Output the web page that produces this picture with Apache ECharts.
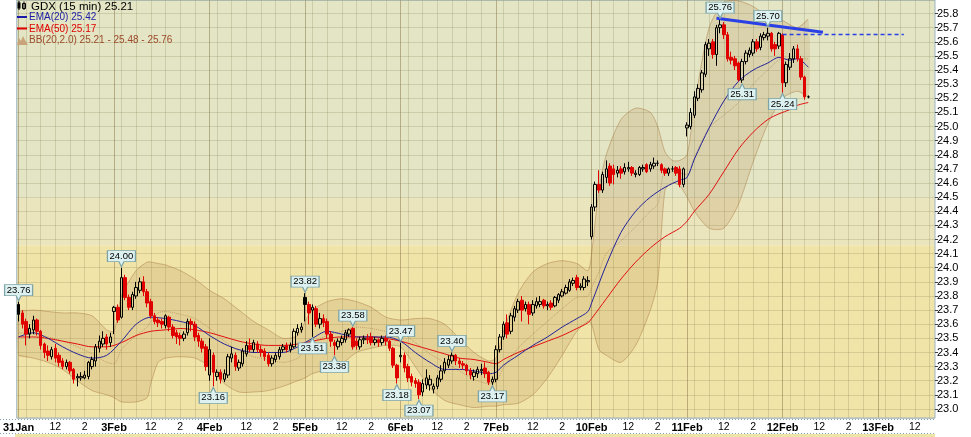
<!DOCTYPE html>
<html><head><meta charset="utf-8">
<script src="https://cdn.jsdelivr.net/npm/echarts@6/dist/echarts.min.js"></script>
<style>html,body{margin:0;padding:0;background:#fff}#c{width:971px;height:437px}</style>
</head><body><div id="c"></div>
<script>
// ---------- categories ----------
const days = ['31Jan','3Feb','4Feb','5Feb','6Feb','7Feb','10Feb','11Feb','12Feb','13Feb'];
const barTimes = ['09:30','09:45','10:00','10:15','10:30','10:45','11:00','11:15','11:30','11:45','12:00','12:15','12:30','12:45','13:00','13:15','13:30','13:45','14:00','14:15','14:30','14:45','15:00','15:15','15:30','15:45'];
const axisBarCount = 250;
const gridTimes = ['10:00','11:00','12:00','13:00','14:00','15:00'];

// ---------- candles [open, close, low, high] ----------
const day31Jan = [[23.74,23.67,23.62,23.76],[23.68,23.60,23.57,23.70],[23.62,23.53,23.45,23.64],[23.53,23.57,23.50,23.60],[23.56,23.63,23.53,23.66],[23.63,23.55,23.52,23.64],[23.55,23.45,23.42,23.56],[23.46,23.40,23.36,23.47],[23.41,23.38,23.34,23.45],[23.37,23.42,23.35,23.44],[23.43,23.36,23.33,23.46],[23.38,23.33,23.30,23.40],[23.34,23.30,23.28,23.36],[23.30,23.33,23.28,23.35],[23.33,23.27,23.25,23.34],[23.28,23.21,23.18,23.29],[23.22,23.23,23.16,23.25],[23.22,23.23,23.20,23.26],[23.22,23.24,23.21,23.27],[23.23,23.33,23.21,23.34],[23.30,23.35,23.28,23.37],[23.34,23.44,23.30,23.46],[23.43,23.48,23.40,23.52],[23.46,23.50,23.44,23.55],[23.51,23.46,23.42,23.53],[23.47,23.51,23.44,23.54]];
const day3Feb = [[23.69,23.72,23.53,23.73],[23.72,23.63,23.61,23.74],[23.65,23.93,23.64,24.00],[23.93,23.79,23.77,23.95],[23.79,23.72,23.70,23.81],[23.72,23.81,23.70,23.83],[23.80,23.86,23.78,23.90],[23.84,23.90,23.82,23.93],[23.90,23.83,23.80,23.94],[23.83,23.75,23.72,23.85],[23.76,23.66,23.64,23.78],[23.66,23.62,23.60,23.68],[23.63,23.61,23.58,23.65],[23.62,23.60,23.57,23.64],[23.59,23.66,23.57,23.67],[23.65,23.58,23.55,23.66],[23.58,23.52,23.50,23.60],[23.54,23.51,23.46,23.56],[23.52,23.50,23.45,23.54],[23.50,23.53,23.48,23.55],[23.54,23.62,23.52,23.64],[23.62,23.60,23.55,23.64],[23.60,23.51,23.48,23.62],[23.52,23.48,23.44,23.54],[23.48,23.43,23.40,23.50],[23.44,23.30,23.27,23.46]];
const day4Feb = [[23.24,23.42,23.20,23.50],[23.38,23.26,23.16,23.40],[23.23,23.26,23.20,23.28],[23.26,23.21,23.18,23.28],[23.21,23.25,23.19,23.28],[23.24,23.37,23.22,23.39],[23.36,23.39,23.33,23.44],[23.38,23.30,23.27,23.40],[23.29,23.33,23.27,23.35],[23.32,23.41,23.30,23.43],[23.39,23.45,23.37,23.48],[23.45,23.42,23.40,23.50],[23.42,23.47,23.40,23.49],[23.46,23.42,23.40,23.48],[23.42,23.40,23.37,23.45],[23.41,23.37,23.34,23.43],[23.38,23.32,23.30,23.40],[23.32,23.36,23.30,23.38],[23.35,23.38,23.33,23.40],[23.37,23.42,23.35,23.44],[23.42,23.44,23.40,23.46],[23.45,23.42,23.40,23.47],[23.42,23.45,23.40,23.47],[23.44,23.55,23.43,23.57],[23.54,23.57,23.52,23.60],[23.56,23.58,23.54,23.61]];
const day5Feb = [[23.79,23.74,23.62,23.82],[23.74,23.68,23.60,23.76],[23.70,23.72,23.51,23.74],[23.71,23.60,23.58,23.73],[23.60,23.64,23.57,23.68],[23.64,23.61,23.58,23.67],[23.62,23.53,23.50,23.64],[23.53,23.48,23.44,23.55],[23.47,23.45,23.38,23.49],[23.44,23.48,23.42,23.50],[23.47,23.50,23.45,23.52],[23.49,23.54,23.47,23.56],[23.53,23.56,23.51,23.57],[23.57,23.44,23.42,23.58],[23.48,23.45,23.42,23.50],[23.44,23.49,23.42,23.51],[23.49,23.50,23.46,23.52],[23.50,23.49,23.46,23.53],[23.51,23.47,23.45,23.54],[23.47,23.49,23.45,23.51],[23.49,23.47,23.44,23.50],[23.47,23.50,23.45,23.52],[23.50,23.48,23.45,23.52],[23.48,23.43,23.41,23.49],[23.43,23.31,23.29,23.44],[23.31,23.22,23.18,23.32]];
const day6Feb = [[23.37,23.38,23.33,23.47],[23.38,23.29,23.26,23.40],[23.30,23.22,23.19,23.32],[23.23,23.19,23.16,23.25],[23.20,23.18,23.15,23.22],[23.19,23.10,23.07,23.21],[23.12,23.18,23.09,23.21],[23.17,23.22,23.14,23.28],[23.17,23.21,23.13,23.24],[23.14,23.16,23.11,23.18],[23.16,23.22,23.14,23.24],[23.21,23.27,23.19,23.31],[23.27,23.33,23.25,23.36],[23.31,23.35,23.29,23.38],[23.34,23.38,23.32,23.40],[23.38,23.34,23.31,23.39],[23.34,23.32,23.29,23.36],[23.32,23.31,23.28,23.34],[23.31,23.27,23.24,23.32],[23.27,23.24,23.21,23.29],[23.23,23.26,23.20,23.28],[23.25,23.28,23.22,23.30],[23.27,23.28,23.24,23.32],[23.29,23.25,23.22,23.33],[23.26,23.19,23.17,23.27],[23.19,23.21,23.17,23.23]];
const day7Feb = [[23.21,23.42,23.19,23.45],[23.42,23.51,23.40,23.53],[23.51,23.60,23.49,23.62],[23.61,23.53,23.50,23.67],[23.55,23.66,23.53,23.68],[23.65,23.71,23.62,23.73],[23.70,23.76,23.68,23.78],[23.77,23.70,23.62,23.80],[23.71,23.74,23.69,23.76],[23.74,23.67,23.60,23.76],[23.68,23.74,23.66,23.77],[23.73,23.76,23.71,23.79],[23.74,23.76,23.72,23.80],[23.77,23.73,23.71,23.78],[23.73,23.74,23.70,23.76],[23.75,23.72,23.70,23.77],[23.73,23.79,23.72,23.80],[23.77,23.81,23.75,23.82],[23.80,23.83,23.79,23.85],[23.82,23.86,23.81,23.88],[23.84,23.90,23.83,23.92],[23.89,23.91,23.87,23.93],[23.93,23.86,23.84,23.95],[23.86,23.87,23.84,23.89],[23.86,23.92,23.84,23.94],[23.90,23.91,23.87,23.94]];
const day10Feb = [[24.22,24.43,24.20,24.45],[24.43,24.59,24.40,24.61],[24.59,24.55,24.53,24.69],[24.55,24.66,24.53,24.68],[24.64,24.70,24.60,24.76],[24.72,24.60,24.58,24.74],[24.70,24.66,24.59,24.73],[24.67,24.69,24.64,24.72],[24.70,24.67,24.63,24.72],[24.68,24.71,24.66,24.74],[24.70,24.71,24.68,24.75],[24.71,24.67,24.65,24.72],[24.66,24.67,24.64,24.69],[24.66,24.71,24.65,24.72],[24.70,24.71,24.68,24.73],[24.73,24.68,24.67,24.74],[24.70,24.73,24.68,24.75],[24.72,24.74,24.70,24.78],[24.74,24.74,24.72,24.76],[24.73,24.69,24.67,24.74],[24.70,24.67,24.65,24.71],[24.67,24.70,24.65,24.71],[24.70,24.70,24.68,24.72],[24.71,24.67,24.65,24.72],[24.70,24.59,24.57,24.72],[24.59,24.70,24.57,24.71]];
const day11Feb = [[24.99,25.01,24.93,25.03],[25.00,25.10,24.98,25.13],[25.08,25.21,25.06,25.25],[25.20,25.27,25.18,25.30],[25.26,25.38,25.24,25.40],[25.37,25.58,25.35,25.60],[25.55,25.59,25.50,25.62],[25.60,25.51,25.48,25.62],[25.51,25.70,25.43,25.72],[25.70,25.72,25.66,25.76],[25.72,25.65,25.62,25.74],[25.65,25.48,25.46,25.67],[25.49,25.47,25.44,25.53],[25.48,25.43,25.40,25.50],[25.45,25.33,25.32,25.46],[25.33,25.46,25.31,25.48],[25.46,25.52,25.44,25.54],[25.51,25.54,25.49,25.56],[25.52,25.60,25.50,25.62],[25.60,25.55,25.53,25.62],[25.56,25.64,25.54,25.66],[25.63,25.65,25.61,25.67],[25.64,25.66,25.61,25.70],[25.66,25.55,25.53,25.67],[25.58,25.55,25.50,25.60],[25.57,25.66,25.55,25.67]];
const day12Feb = [[25.65,25.31,25.24,25.66],[25.31,25.44,25.28,25.46],[25.42,25.48,25.40,25.52],[25.48,25.55,25.45,25.57],[25.55,25.48,25.46,25.58],[25.48,25.35,25.33,25.50],[25.35,25.21,25.19,25.36],[25.21,25.21,25.20,25.22]];
const blackFilledBars = [0, 78];

// ---------- indicators ----------
const emaIndex = [0,4,8,12,16,20,24,28,32,36,40,44,48,52,56,60,64,68,72,76,80,84,88,92,96,100,104,108,112,116,120,124,128,130,132,136,140,144,148,152,155,156,160,164,168,172,176,180,182,184,188,192,196,200,204,207,210,212,215];
const ema20 = [23.51,23.54,23.50,23.44,23.39,23.36,23.38,23.48,23.60,23.65,23.64,23.62,23.59,23.52,23.46,23.42,23.40,23.40,23.40,23.44,23.50,23.55,23.53,23.51,23.51,23.51,23.48,23.40,23.33,23.28,23.28,23.27,23.25,23.26,23.31,23.38,23.45,23.51,23.58,23.64,23.69,23.75,24.02,24.25,24.40,24.50,24.57,24.62,24.64,24.77,24.99,25.18,25.32,25.40,25.45,25.49,25.47,25.48,25.42];
const ema50 = [23.51,23.51,23.50,23.48,23.46,23.44,23.44,23.47,23.52,23.55,23.56,23.57,23.56,23.54,23.51,23.48,23.46,23.45,23.45,23.46,23.48,23.50,23.51,23.51,23.51,23.50,23.48,23.45,23.42,23.39,23.36,23.35,23.33,23.32,23.35,23.40,23.44,23.48,23.52,23.57,23.61,23.64,23.78,23.92,24.04,24.14,24.22,24.28,24.33,24.40,24.52,24.68,24.84,24.96,25.05,25.09,25.12,25.15,25.17];

const bbIndex = [0,4,8,12,16,20,24,26,28,32,35,36,38,40,44,48,52,56,60,64,68,72,76,78,80,84,88,92,96,100,104,108,112,116,120,124,128,130,132,136,140,144,148,152,155,156,158,160,164,168,172,174,176,178,180,182,184,188,192,196,200,204,208,212,215];
const bbUpper = [23.69,23.70,23.69,23.68,23.68,23.66,23.56,23.55,23.80,23.98,24.04,24.04,24.03,24.02,23.98,23.92,23.84,23.78,23.70,23.62,23.56,23.50,23.52,23.62,23.70,23.76,23.78,23.76,23.72,23.65,23.63,23.64,23.64,23.60,23.50,23.40,23.34,23.36,23.55,23.82,23.97,24.03,24.05,24.03,23.98,24.10,24.55,24.80,25.05,25.13,25.10,25.00,24.82,24.76,24.76,24.80,25.15,25.70,25.88,25.89,25.85,25.78,25.75,25.70,25.76];
const bbMiddle = [23.54,23.53,23.51,23.48,23.44,23.39,23.33,23.32,23.42,23.52,23.58,23.62,23.68,23.69,23.67,23.64,23.57,23.48,23.41,23.37,23.35,23.33,23.36,23.42,23.47,23.52,23.55,23.58,23.57,23.55,23.54,23.47,23.39,23.33,23.27,23.21,23.18,23.19,23.29,23.43,23.53,23.62,23.71,23.79,23.80,23.86,23.97,24.10,24.19,24.29,24.40,24.45,24.68,24.68,24.67,24.66,24.78,24.99,25.08,25.17,25.30,25.40,25.48,25.48,25.48];
const bbLower = [23.38,23.36,23.33,23.28,23.20,23.13,23.10,23.08,23.05,23.05,23.08,23.18,23.33,23.36,23.37,23.36,23.30,23.18,23.12,23.12,23.13,23.16,23.20,23.22,23.25,23.28,23.32,23.40,23.43,23.45,23.44,23.30,23.15,23.06,23.03,23.01,23.02,23.02,23.03,23.04,23.10,23.22,23.38,23.55,23.62,23.60,23.42,23.38,23.33,23.45,23.70,23.90,24.55,24.60,24.58,24.50,24.40,24.28,24.28,24.45,24.75,25.02,25.20,25.25,25.21];

// ---------- annotations ----------
const calloutBars = [0,28,53,78,80,86,91,103,104,109,118,129,191,197,204,208];
const calloutValues = [23.76,24.00,23.16,23.82,23.51,23.38,23.58,23.18,23.47,23.07,23.40,23.17,25.76,25.31,25.70,25.24];
const calloutSides = ['top','top','bottom','top','bottom','bottom','top','bottom','top','bottom','top','bottom','top','bottom','top','bottom'];
const trendLine = [[190,25.766],[219,25.667]];
const resistanceLine = [[208,25.655],[241,25.655]];
const zoneBreaks = [22.936, 24.16, 24.5, 25.896];

// ---------- build ----------
const categories = [];
days.forEach(d => barTimes.forEach(t => categories.push(d + ' ' + t)));
categories.length = axisBarCount;

const ohlc = [].concat(day31Jan, day3Feb, day4Feb, day5Feb, day6Feb, day7Feb, day10Feb, day11Feb, day12Feb);
const candleData = ohlc.map((v, i) => blackFilledBars.includes(i)
  ? {value: v, itemStyle: {color: '#000', color0: '#000', borderColor: '#000', borderColor0: '#000'}}
  : v);

const pair = (idx, vals) => idx.map((x, k) => [x, vals[k]]);

const gridLineData = [];
categories.forEach((c, i) => {
  const t = c.split(' ')[1];
  if (t === '09:30') gridLineData.push({xAxis: c, lineStyle: {color: 'rgba(120,95,50,0.42)', width: 1, type: 'solid'}});
  else if (gridTimes.includes(t)) gridLineData.push({xAxis: c, lineStyle: {color: 'rgba(110,110,60,0.2)', width: 1, type: 'solid'}});
});

const pathTop = 'path://M0,0L28,0L28,11L16.5,11L14,16L11.5,11L0,11Z';
const pathBottom = 'path://M0,5L11.5,5L14,0L16.5,5L28,5L28,16L0,16Z';
const calloutData = calloutBars.map((b, k) => {
  const top = calloutSides[k] === 'top';
  return {
    coord: [b, calloutValues[k]], value: calloutValues[k],
    symbol: top ? pathTop : pathBottom,
    symbolSize: [28, 16],
    symbolOffset: [0, top ? -9 : 9],
    label: {offset: [0, top ? -2.5 : 2.5]}
  };
});

const chart = echarts.init(document.getElementById('c'), null, {renderer: 'canvas'});
const FONT = 'Liberation Sans, Arial, sans-serif';

chart.setOption({
  animation: false,
  backgroundColor: '#ffffff',
  grid: {left: 15, right: 36, top: 0, height: 418, show: true, borderColor: '#9db3c2', borderWidth: 1, backgroundColor: 'transparent'},
  xAxis: {
    type: 'category', data: categories, boundaryGap: true,
    axisLine: {show: false}, axisTick: {show: false}, splitLine: {show: false},
    axisLabel: {
      margin: 4, color: '#000', fontFamily: FONT, fontSize: 10.5,
      interval: (i, v) => { const t = v.split(' ')[1]; return t === '09:30' || t === '12:00' || t === '14:00'; },
      formatter: (v) => { const [d, t] = v.split(' '); if (t === '09:30') return '{d|' + d + '}'; if (t === '12:00') return '12'; return '2'; },
      rich: {d: {fontWeight: 'bold', fontSize: 11, fontFamily: FONT, color: '#000'}}
    }
  },
  yAxis: {
    type: 'value', position: 'right', min: zoneBreaks[0], max: zoneBreaks[3],
    minInterval: 0.1, maxInterval: 0.1, scale: true,
    axisLine: {show: false},
    axisTick: {show: true, length: 3, lineStyle: {color: '#444'}},
    axisLabel: {margin: 2, color: '#000', fontSize: 11, fontFamily: FONT, showMinLabel: false, showMaxLabel: false, formatter: v => v.toFixed(1)},
    splitLine: {show: true, lineStyle: {color: 'rgba(110,110,60,0.2)', width: 1}}
  },
  graphic: [
    {type: 'rect', shape: {x: 0, y: 419, width: 971, height: 14}, style: {fill: '#fff'}, z: -10, silent: true},
    {type: 'line', shape: {x1: 0, y1: 419.5, x2: 935, y2: 419.5}, style: {stroke: '#7fa3b8', lineDash: [1, 2], lineWidth: 1}, silent: true},
    {type: 'line', shape: {x1: 0, y1: 433.5, x2: 935, y2: 433.5}, style: {stroke: '#7fa3b8', lineDash: [1, 2], lineWidth: 1}, silent: true},
    {type: 'rect', shape: {x: 15, y: 434, width: 920, height: 4}, style: {fill: '#efe4a8'}, silent: true},
    // legend
    {type: 'rect', shape: {x: 17.5, y: 2.5, width: 3, height: 6}, style: {fill: '#000'}, z: 50, silent: true},
    {type: 'line', shape: {x1: 19, y1: 1, x2: 19, y2: 10}, style: {stroke: '#000'}, z: 50, silent: true},
    {type: 'rect', shape: {x: 22.5, y: 3.5, width: 3, height: 5}, style: {fill: 'none', stroke: '#000'}, z: 50, silent: true},
    {type: 'line', shape: {x1: 24, y1: 1.5, x2: 24, y2: 10}, style: {stroke: '#000'}, z: 50, silent: true},
    {type: 'text', x: 31, y: 6.5, style: {text: 'GDX (15 min) 25.21', fill: '#000', font: '11.5px ' + FONT, textVerticalAlign: 'middle'}, z: 50, silent: true},
    {type: 'rect', shape: {x: 17, y: 16, width: 10, height: 2}, style: {fill: '#1a1aa6'}, z: 50, silent: true},
    {type: 'text', x: 29, y: 17.5, style: {text: 'EMA(20) 25.42', fill: '#1a1aa6', font: '10px ' + FONT, textVerticalAlign: 'middle'}, z: 50, silent: true},
    {type: 'rect', shape: {x: 17, y: 27.5, width: 10, height: 2}, style: {fill: '#e00000'}, z: 50, silent: true},
    {type: 'text', x: 29, y: 29, style: {text: 'EMA(50) 25.17', fill: '#e00000', font: '10px ' + FONT, textVerticalAlign: 'middle'}, z: 50, silent: true},
    {type: 'polygon', shape: {points: [[17,45],[19,38],[21,41],[23,36],[25,40],[28,45]]}, style: {fill: '#c9a47a'}, z: 50, silent: true},
    {type: 'text', x: 29, y: 40.5, style: {text: 'BB(20,2.0) 25.21 - 25.48 - 25.76', fill: '#9c4a2a', font: '10px ' + FONT, textVerticalAlign: 'middle'}, z: 50, silent: true}
  ],
  series: [
    {
      name: 'bg', type: 'line', data: [], silent: true, z: 0,
      markArea: {
        silent: true, z: -2,
        data: [
          [{yAxis: zoneBreaks[0], itemStyle: {color: '#f0e4a9'}}, {yAxis: zoneBreaks[1]}],
          [{yAxis: zoneBreaks[1], itemStyle: {color: '#ebe5bd'}}, {yAxis: zoneBreaks[2]}],
          [{yAxis: zoneBreaks[2], itemStyle: {color: '#e3e5c4'}}, {yAxis: zoneBreaks[3]}]
        ]
      },
      markLine: {silent: true, z: -1, symbol: ['none', 'none'], label: {show: false}, data: gridLineData}
    },
    {
      name: 'BB band', type: 'custom', silent: true, z: 1, clip: true,
      data: [[0, bbMiddle[0]]],
      encode: {x: 0, y: 1},
      renderItem: (params, api) => {
        const up = pair(bbIndex, bbUpper).map(p => api.coord(p));
        const lo = pair(bbIndex, bbLower).map(p => api.coord(p));
        return {type: 'group', children: [
          {type: 'polygon', shape: {points: up.concat(lo.slice().reverse()), smooth: 0.25}, style: {fill: 'rgba(170,115,50,0.16)', stroke: null}},
          {type: 'polyline', shape: {points: up, smooth: 0.25}, style: {stroke: 'rgba(165,115,60,0.45)', fill: null, lineWidth: 1}},
          {type: 'polyline', shape: {points: lo, smooth: 0.25}, style: {stroke: 'rgba(165,115,60,0.45)', fill: null, lineWidth: 1}}
        ]};
      }
    },
    {name: 'BB mid', type: 'line', data: pair(bbIndex, bbMiddle), smooth: 0.3, showSymbol: false, silent: true, z: 2,
      lineStyle: {color: 'rgba(165,120,70,0.55)', width: 1, type: 'dotted'}},
    {name: 'EMA50', type: 'line', data: pair(emaIndex, ema50), smooth: 0.3, showSymbol: false, silent: true, z: 2,
      lineStyle: {color: '#e01010', width: 1}},
    {name: 'EMA20', type: 'line', data: pair(emaIndex, ema20), smooth: 0.3, showSymbol: false, silent: true, z: 2,
      lineStyle: {color: '#22229a', width: 1}},
    {
      name: 'GDX', type: 'candlestick', data: candleData, barWidth: 3, silent: true, z: 3,
      itemStyle: {color: 'rgba(0,0,0,0)', color0: '#e00000', borderColor: '#000', borderColor0: '#e00000', borderWidth: 1},
      markLine: {
        silent: true, z: 6, symbol: ['none', 'none'], label: {show: false},
        data: [
          [{coord: trendLine[0], lineStyle: {color: '#2a3fe6', width: 3, type: 'solid'}}, {coord: trendLine[1]}],
          [{coord: resistanceLine[0], lineStyle: {color: '#2a3fe6', width: 1.3, type: [4, 3]}}, {coord: resistanceLine[1]}]
        ]
      },
      markPoint: {
        silent: true, z: 7,
        itemStyle: {color: '#ddf2f0', borderColor: '#7fa4a8', borderWidth: 1},
        label: {show: true, position: 'inside', color: '#000', fontSize: 9.5, fontFamily: FONT, formatter: p => Number(p.value).toFixed(2)},
        data: calloutData
      }
    }
  ]
});
</script></body></html>
